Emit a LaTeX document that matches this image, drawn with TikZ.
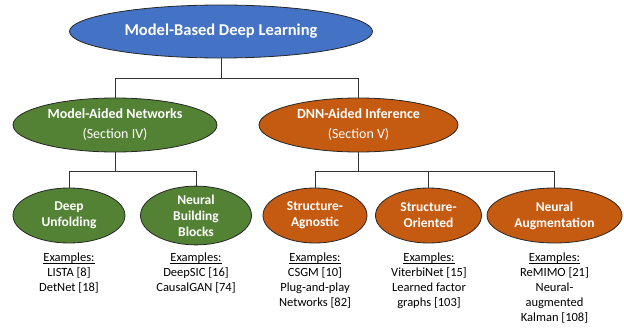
\documentclass[tikz,border=0pt]{standalone}
\usepackage{fontspec}
\setmainfont{Carlito}
\usetikzlibrary{shapes.geometric}
\definecolor{mblue}{HTML}{4472C4}
\definecolor{mgreen}{HTML}{548235}
\definecolor{morange}{HTML}{C55A11}
\newcommand\exundl[1]{\setbox0\hbox{#1}\rlap{\rule[-2pt]{\wd0}{0.7pt}}\box0}
\tikzset{
  ell/.style={ellipse, draw=black!85, line width=0.8pt, text=white, inner sep=0pt, align=center},
  topell/.style={ell, fill=mblue, minimum width=303pt, minimum height=53pt, font=\fontsize{16.5}{19}\selectfont\bfseries},
  midell/.style={ell, minimum height=54pt, font=\fontsize{14}{20}\selectfont},
  lowell/.style={ell, minimum height=55pt, font=\fontsize{13.5}{16}\selectfont\bfseries},
  ex/.style={anchor=north, align=center, inner sep=0pt, font=\fontsize{12.5}{15}\selectfont},
  conn/.style={draw=black!80, line width=0.8pt}
}
\begin{document}
\begin{tikzpicture}[x=1pt,y=-1pt]
\useasboundingbox (0,0) rectangle (624,329);
\node[topell] (top) at (221,31.5) {Model-Based Deep Learning};
\node[midell, fill=mgreen, minimum width=204pt] (man) at (115,125) {\textbf{Model-Aided Networks}\\(Section IV)};
\node[midell, fill=morange, minimum width=199pt] (dnn) at (358.5,125) {\textbf{DNN-Aided Inference}\\(Section V)};
\node[lowell, fill=mgreen, minimum width=112pt] (du) at (69,215.5) {Deep\\Unfolding};
\node[lowell, fill=mgreen, minimum width=111pt] (nbb) at (196,215.5) {Neural\\Building\\Blocks};
\node[lowell, fill=morange, minimum width=104pt] (sa) at (315,215.5) {Structure-\\Agnostic};
\node[lowell, fill=morange, minimum width=106pt] (so) at (428.5,215.5) {Structure-\\Oriented};
\node[lowell, fill=morange, minimum width=135pt] (na) at (554.5,215.5) {Neural\\Augmentation};
\draw[conn] (top.south) -- ++(0,20) -| (man.north);
\draw[conn] (top.south) -- ++(0,20) -| (dnn.north);
\draw[conn] (man.south) -- ++(0,18.5) -| (du.north);
\draw[conn] (man.south) -- ++(0,18.5) -| (nbb.north);
\draw[conn] (dnn.south) -- ++(0,18.5) -| (sa.north);
\draw[conn] (dnn.south) -- ++(0,18.5) -| (so.north);
\draw[conn] (dnn.south) -- ++(0,18.5) -| (na.north);
\node[ex] (e1) at (69,253) {\exundl{Examples:}\\LISTA [8]\\DetNet [18]};
\node[ex] (e2) at (196,253) {\exundl{Examples:}\\DeepSIC [16]\\CausalGAN [74]};
\node[ex] (e3) at (315,253) {\exundl{Examples:}\\CSGM [10]\\Plug-and-play\\Networks [82]};
\node[ex] (e4) at (429,253) {\exundl{Examples:}\\ViterbiNet [15]\\Learned factor\\graphs [103]};
\node[ex] (e5) at (554.5,253) {\exundl{Examples:}\\ReMIMO [21]\\Neural-\\augmented\\Kalman [108]};
\end{tikzpicture}
\end{document}
